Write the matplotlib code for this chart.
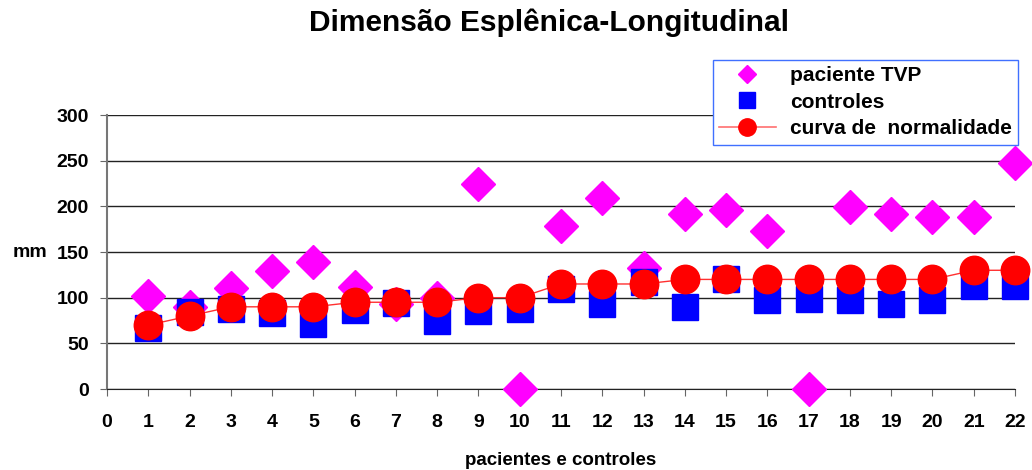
import numpy as np
import matplotlib.pyplot as plt
from matplotlib.lines import Line2D

plt.rcParams["font.family"] = ["Liberation Sans", "DejaVu Sans"]
plt.rcParams["font.weight"] = "bold"

# dados por indivíduo (1..22)
indices = np.arange(1, 23)
paciente_tvp = [102, 90, 111, 129, 139, 112, 93, 100, 225, 0, 179,
                209, 132, 192, 196, 173, 0, 199, 192, 188, 188, 247]
controles = [67, 84, 88, 83, 71, 87, 94, 74, 85, 88, 109,
             93, 117, 90, 120, 97, 99, 97, 93, 98, 113, 113]
curva_normal = [70, 80, 90, 90, 90, 95, 95, 95, 100, 100, 115,
                115, 115, 120, 120, 120, 120, 120, 120, 120, 130, 130]

fig = plt.figure(figsize=(10.32, 4.70), dpi=100)
ax = fig.add_axes([0.1037, 0.1723, 0.8798, 0.583])

ax.plot(indices, paciente_tvp, linestyle="none", marker="D", ms=17,
        color="#FF00FF", mec="#FF00FF", clip_on=False, zorder=3)
ax.plot(indices, controles, linestyle="none", marker="s", ms=18.5,
        color="#0000FF", mec="#0000FF", clip_on=False, zorder=4)
ax.plot(indices, curva_normal, linestyle="-", lw=1, color="#FF3030",
        marker="o", ms=20.5, mfc="#FF0000", mec="#FF0000",
        clip_on=False, zorder=5)

ax.set_xlim(0, 22)
ax.set_ylim(0, 300)
ax.set_xticks(range(0, 23))
ax.set_yticks(range(0, 301, 50))
ax.tick_params(axis="both", labelsize=14, direction="out", length=5,
               color="#666666")
ax.tick_params(axis="x", pad=13)
ax.tick_params(axis="y", pad=8)
for lbl in ax.get_xticklabels() + ax.get_yticklabels():
    lbl.set_fontweight("bold")

ax.grid(axis="y", color="#222222", lw=1)
ax.set_axisbelow(True)
for side in ("top", "right"):
    ax.spines[side].set_visible(False)
ax.spines["left"].set_color("#777777")
ax.spines["left"].set_linewidth(1.5)
ax.spines["bottom"].set_color("#222222")

ax.set_xlabel("pacientes e controles", fontsize=13.5, fontweight="bold",
              labelpad=15)
ax.set_ylabel("mm", fontsize=14, fontweight="bold", rotation=0,
              va="center", ha="center")
ax.yaxis.set_label_coords(-0.0853, 0.5)

fig.suptitle("Dimensão Esplênica-Longitudinal", x=0.532, y=0.982,
             fontsize=21.5, fontweight="bold")

handles = [
    Line2D([], [], linestyle="none", marker="D", ms=9, color="#FF00FF"),
    Line2D([], [], linestyle="none", marker="s", ms=11, color="#0000FF"),
    Line2D([], [], linestyle="-", lw=1.2, color="#FF7070", marker="o",
           ms=12.5, mfc="#FF0000", mec="#FF0000"),
]
leg = fig.legend(handles, ["paciente TVP", "controles", "curva de  normalidade"],
                 loc="upper left", bbox_to_anchor=(0.6909, 0.8723),
                 fancybox=False, framealpha=1, edgecolor="#4070FF",
                 prop={"size": 15, "weight": "bold"}, handlelength=2.7,
                 borderpad=0.3, labelspacing=0.36, handletextpad=0.7,
                 borderaxespad=0)
leg.get_frame().set_linewidth(1)

fig.savefig("out.png", dpi=100)
